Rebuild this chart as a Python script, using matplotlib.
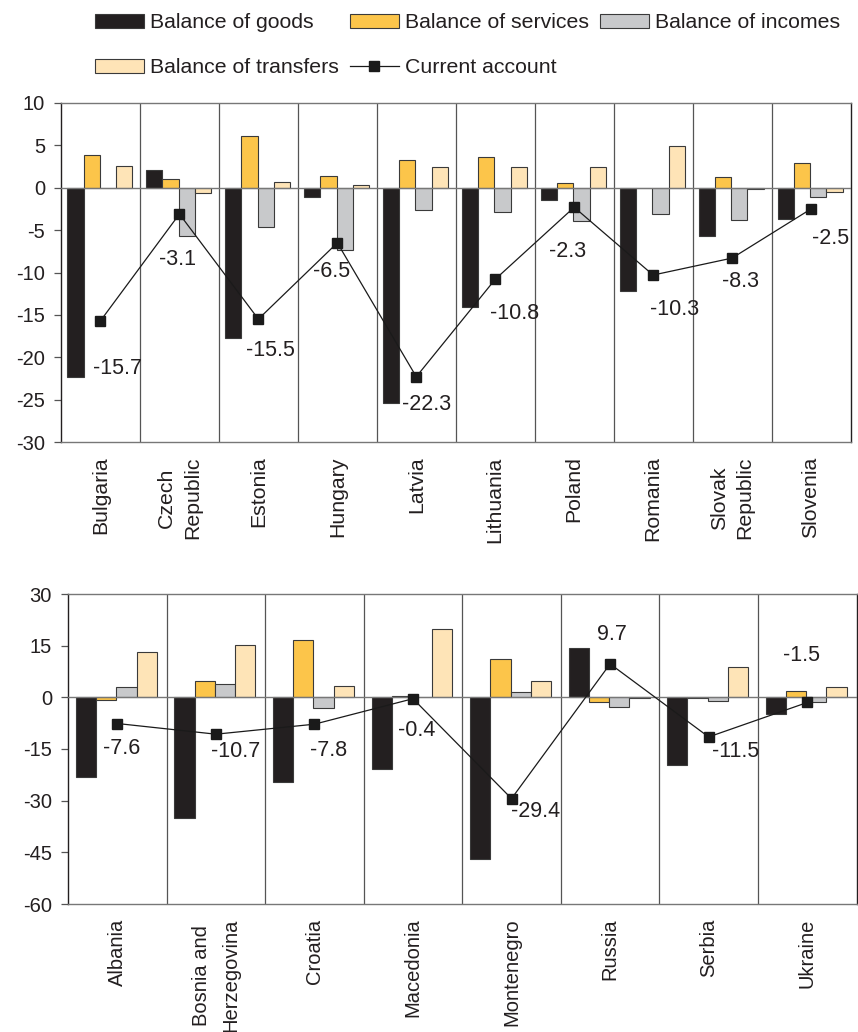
import matplotlib
matplotlib.use("Agg")
import matplotlib.pyplot as plt
from matplotlib.patches import Patch
from matplotlib.lines import Line2D
import numpy as np

plt.rcParams['font.family'] = ['Liberation Sans', 'DejaVu Sans']
plt.rcParams['axes.unicode_minus'] = False

# ---- data: top panel (EU new members) ----
top_countries = ["Bulgaria", "Czech\nRepublic", "Estonia", "Hungary", "Latvia",
                 "Lithuania", "Poland", "Romania", "Slovak\nRepublic", "Slovenia"]
top_goods = [-22.3, 2.05, -17.75, -1.06, -25.45, -14.1, -1.41, -12.14, -5.65, -3.7]
top_services = [3.85, 1.06, 6.1, 1.38, 3.23, 3.58, 0.59, 0.0, 1.22, 2.87]
top_incomes = [0.0, -5.73, -4.63, -7.3, -2.63, -2.83, -3.93, -3.06, -3.81, -1.06]
top_transfers = [2.6, -0.6, 0.63, 0.36, 2.4, 2.4, 2.4, 4.87, -0.15, -0.55]
top_current = [-15.7, -3.1, -15.5, -6.5, -22.3, -10.8, -2.3, -10.3, -8.3, -2.5]
top_yticks = [10, 5, 0, -5, -10, -15, -20, -25, -30]

# ---- data: bottom panel ----
bot_countries = ["Albania", "Bosnia and\nHerzegovina", "Croatia", "Macedonia",
                 "Montenegro", "Russia", "Serbia", "Ukraine"]
bot_goods = [-23.1, -35.05, -24.5, -20.7, -46.9, 14.3, -19.65, -4.94]
bot_services = [-0.87, 4.84, 16.6, 0.4, 11.2, -1.26, -0.3, 1.94]
bot_incomes = [3.08, 3.77, -3.2, 0.2, 1.65, -2.9, -1.16, -1.45]
bot_transfers = [13.06, 15.3, 3.29, 19.9, 4.74, -0.3, 8.8, 2.9]
bot_current = [-7.6, -10.7, -7.8, -0.4, -29.4, 9.7, -11.5, -1.5]
bot_yticks = [30, 15, 0, -15, -30, -45, -60]

legend_labels = ["Balance of goods", "Balance of services", "Balance of incomes",
                 "Balance of transfers", "Current account"]

# ---- styling ----
C_GOODS = "#231f20"
C_SERV = "#fcc54a"
C_INC = "#c8c9cb"
C_TRANS = "#fee4b7"
EDGE = "#3a3a3a"
GRID = "#555555"

# label offsets in pixels (dx, dy) relative to each marker
top_label_off = [(17, -48), (-2, -45), (12, -31), (-6, -29), (10, -28),
                 (19, -34), (-7, -44), (21, -34), (8, -23), (20, -30)]
bot_label_off = [(4, -25), (20, -17), (14, -26), (4, -32), (24, -13),
                 (2, 29), (27, -15), (-6, 47)]

W, H = 858, 1032
fig = plt.figure(figsize=(W / 100, H / 100), dpi=100)


def make_panel(rect, cats, goods, serv, inc, trans, cur, yticks, offs,
               cat_size, cat_linespacing):
    ax = fig.add_axes(rect)
    n = len(cats)
    x = np.arange(n)
    bw = 0.205
    gc = 0.49
    series = [(goods, C_GOODS), (serv, C_SERV), (inc, C_INC), (trans, C_TRANS)]
    for k, (vals, col) in enumerate(series):
        ax.bar(x + gc + (k - 1.5) * bw, vals, width=bw, color=col,
               edgecolor=EDGE, linewidth=0.8, zorder=3)
    ax.plot(x + 0.5, cur, color="#1a1a1a", linewidth=0.9, marker="s",
            markersize=7.5, markerfacecolor="#1a1a1a", markeredgecolor="#1a1a1a",
            zorder=5)
    for i, v in enumerate(cur):
        ax.annotate(f"{v:.1f}", (i + 0.5, v), xytext=offs[i],
                    textcoords="offset pixels", ha="center", va="center",
                    fontsize=15.5, color="#231f20", zorder=6)
    ax.set_xlim(0, n)
    ax.set_ylim(min(yticks), max(yticks))
    ax.axhline(0, color="#777777", linewidth=1.0, zorder=4)
    for i in range(1, n):
        ax.axvline(i, color=GRID, linewidth=0.9, zorder=1)
    ax.set_yticks(yticks)
    ax.set_yticklabels([str(t) for t in yticks])
    ax.tick_params(axis="y", direction="out", length=5, width=0.9,
                   color="#555555", labelsize=14.5, pad=6.5, labelcolor="#231f20")
    ax.set_xticks(x + 0.5)
    ax.set_xticklabels(cats, rotation=90, ha="center", va="top",
                       multialignment="center", fontsize=cat_size,
                       color="#231f20", linespacing=cat_linespacing)
    ax.tick_params(axis="x", length=0, pad=10.5)
    for s in ["top", "bottom"]:
        ax.spines[s].set_color("#777777")
        ax.spines[s].set_linewidth(1.0)
    for s in ["left", "right"]:
        ax.spines[s].set_color("#231f20")
        ax.spines[s].set_linewidth(1.0)
    return ax


ax1 = make_panel([61 / W, 1 - 442 / H, (850.5 - 61) / W, (442 - 103) / H],
                 top_countries, top_goods, top_services, top_incomes,
                 top_transfers, top_current, top_yticks, top_label_off,
                 15.3, 1.45)
ax2 = make_panel([68 / W, 1 - 904 / H, (856.5 - 68) / W, (904 - 594) / H],
                 bot_countries, bot_goods, bot_services, bot_incomes,
                 bot_transfers, bot_current, bot_yticks, bot_label_off,
                 14.5, 1.7)

handles = [
    Patch(facecolor=C_GOODS, edgecolor=EDGE, linewidth=0.8),
    Patch(facecolor=C_TRANS, edgecolor=EDGE, linewidth=0.8),
    Patch(facecolor=C_SERV, edgecolor=EDGE, linewidth=0.8),
    Line2D([0], [0], color="#1a1a1a", linewidth=0.9, marker="s", markersize=7),
    Patch(facecolor=C_INC, edgecolor=EDGE, linewidth=0.8),
]
labels = [legend_labels[0], legend_labels[3], legend_labels[1],
          legend_labels[4], legend_labels[2]]
fig.legend(handles, labels, ncol=3, loc="upper left",
           bbox_to_anchor=(95 / W, 1 - 13.5 / H), frameon=False, fontsize=15.3,
           handlelength=2.3, handleheight=0.6, handletextpad=0.3,
           columnspacing=0.5, labelspacing=1.22, borderpad=0.0,
           borderaxespad=0.0, labelcolor="#231f20")

fig.savefig("out.png", dpi=100)
